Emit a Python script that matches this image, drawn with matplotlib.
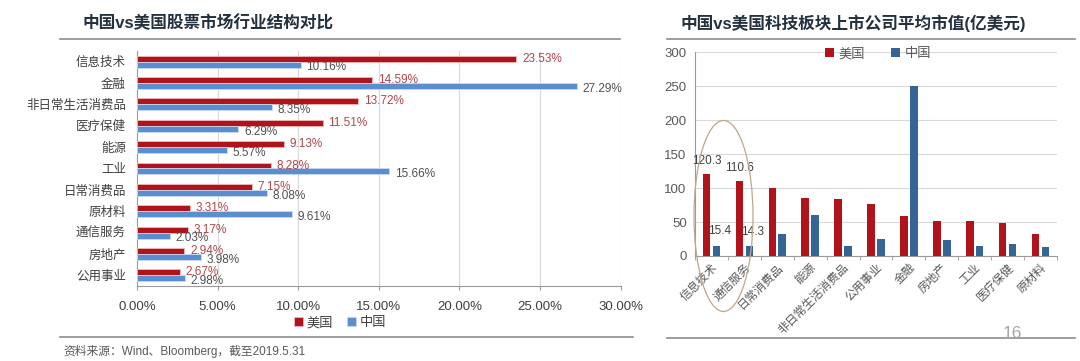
import numpy as np
import matplotlib.pyplot as plt
from matplotlib.patches import Ellipse
from matplotlib.lines import Line2D

plt.rcParams['font.family'] = ['Liberation Sans', 'Noto Sans CJK SC', 'DejaVu Sans']

# left chart: industry structure (%)
sectors_left = ["信息技术", "金融", "非日常生活消费品", "医疗保健", "能源", "工业",
                "日常消费品", "原材料", "通信服务", "房地产", "公用事业"]
us_share = [23.53, 14.59, 13.72, 11.51, 9.13, 8.28, 7.15, 3.31, 3.17, 2.94, 2.67]
cn_share = [10.16, 27.29, 8.35, 6.29, 5.57, 15.66, 8.08, 9.61, 2.03, 3.98, 2.98]

# right chart: average market cap of tech-sector listed companies (100m USD)
sectors_right = ["信息技术", "通信服务", "日常消费品", "能源", "非日常生活消费品", "公用事业",
                 "金融", "房地产", "工业", "医疗保健", "原材料"]
us_cap = [120.3, 110.6, 100, 86, 84, 77, 59, 52, 51, 48, 32]
cn_cap = [15.4, 14.3, 33, 60, 14, 25, 250, 23, 14, 18, 13]
labeled = 2  # first two categories carry value labels

red_l = '#B0141A'
blue_l = '#5B8ED0'
red_r = '#B0141A'
blue_r = '#356596'
grid_c = '#D9D9D9'
axis_c = '#9A9A9A'
text_c = '#404040'
title_c = '#24313F'

fig = plt.figure(figsize=(10.8, 3.61), dpi=100)
fig.patch.set_facecolor('white')

# ---- left chart ----
ax1 = fig.add_axes([137 / 1080, 1 - 286 / 361, (620.7 - 137) / 1080, (286 - 51) / 361])
y = np.arange(len(sectors_left))
h = 0.28
ax1.barh(y - h / 2, us_share, height=h, color=red_l, edgecolor='#F2B8B8', linewidth=0.6, label='美国', zorder=3)
ax1.barh(y + h / 2, cn_share, height=h, color=blue_l, edgecolor='#C8DAF0', linewidth=0.6, label='中国', zorder=3)
ax1.set_ylim(len(sectors_left) - 0.5, -0.5)
ax1.set_xlim(0, 30)
ax1.set_xticks(np.arange(0, 31, 5))
ax1.set_xticklabels([f'{v:.2f}%' for v in np.arange(0, 31, 5)], fontsize=9.5, color=text_c)
ax1.set_yticks(y)
ax1.set_yticklabels(sectors_left, fontsize=9, color=text_c)
ax1.tick_params(axis='y', length=0, pad=8)
ax1.tick_params(axis='x', length=3, color=axis_c, pad=8)
ax1.xaxis.grid(True, color=grid_c, linewidth=0.8, zorder=0)
for s in ['top', 'right']:
    ax1.spines[s].set_visible(False)
for s in ['left', 'bottom']:
    ax1.spines[s].set_color(axis_c)
for i in range(len(sectors_left)):
    ax1.annotate(f'{us_share[i]:.2f}%', (us_share[i], y[i] - h / 2), xytext=(4, 0),
                 textcoords='offset points', va='center', ha='left', fontsize=8.5, color='#B0464A')
    ax1.annotate(f'{cn_share[i]:.2f}%', (cn_share[i], y[i] + h / 2), xytext=(4, -2),
                 textcoords='offset points', va='center', ha='left', fontsize=8.5, color='#505050')
ax1.legend(loc='center', bbox_to_anchor=(340 / 1080, 1 - 323 / 361), bbox_transform=fig.transFigure,
           ncol=2, frameon=False, fontsize=9.5, handlelength=0.7, handleheight=0.7,
           handletextpad=0.3, columnspacing=1.0, labelcolor=text_c)

# ---- right chart ----
ax2 = fig.add_axes([695 / 1080, 1 - 256 / 361, (1057 - 695) / 1080, (256 - 52.3) / 361])
x = np.arange(len(sectors_right))
w = 0.23
ax2.bar(x - 0.15, us_cap, width=w, color=red_r, label='美国', zorder=3)
ax2.bar(x + 0.15, cn_cap, width=w, color=blue_r, label='中国', zorder=3)
ax2.set_xlim(-0.5, len(sectors_right) - 0.5)
ax2.set_ylim(0, 300)
ax2.set_yticks(np.arange(0, 301, 50))
ax2.tick_params(axis='y', length=0, labelsize=9.5, labelcolor='#595959', pad=6)
ax2.yaxis.grid(True, color=grid_c, linewidth=0.8, zorder=0)
ax2.set_xticks(x)
ax2.set_xticklabels(sectors_right, rotation=45, ha='right', rotation_mode='anchor',
                    fontsize=8.5, color='#595959')
ax2.tick_params(axis='x', length=0, pad=4)
ax2.set_xticks(np.arange(-0.5, len(sectors_right)), minor=True)
ax2.tick_params(axis='x', which='minor', length=3, color=axis_c)
for s in ['top', 'right']:
    ax2.spines[s].set_visible(False)
for s in ['left', 'bottom']:
    ax2.spines[s].set_color(axis_c)
for i in range(labeled):
    ax2.annotate(f'{us_cap[i]}', (x[i] - 0.15, us_cap[i]), xytext=(0, 5), textcoords='offset points',
                 ha='center', va='bottom', fontsize=8.5, color='#404040')
    ax2.annotate(f'{cn_cap[i]}', (x[i] + 0.25, cn_cap[i]), xytext=(0, 6), textcoords='offset points',
                 ha='center', va='bottom', fontsize=8.5, color='#404040')
ax2.legend(loc='center', bbox_to_anchor=(878 / 1080, 1 - 54 / 361), bbox_transform=fig.transFigure,
           ncol=2, frameon=False, fontsize=9.5, handlelength=0.7, handleheight=0.7,
           handletextpad=0.3, columnspacing=2.0, labelcolor='#595959')

# highlight ellipse around the first two categories
fig.patches.append(Ellipse((723.5 / 1080, 1 - 216 / 361), 59 / 1080, 191 / 361,
                           transform=fig.transFigure, fill=False, edgecolor='#BFA68C', linewidth=0.9))

# ---- titles, rules, notes ----
fig.text(83 / 1080, 1 - 23 / 361, '中国vs美国股票市场行业结构对比', fontsize=12,
         fontweight='bold', color=title_c, va='center', ha='left')
fig.text(680 / 1080, 1 - 23 / 361, '中国vs美国科技板块上市公司平均市值(亿美元)', fontsize=12,
         fontweight='bold', color=title_c, va='center', ha='left')
for x0, x1, yy in [(60, 620, 39), (667, 1075, 39), (60, 633, 337), (667, 1075, 338)]:
    fig.add_artist(Line2D([x0 / 1080, x1 / 1080], [1 - yy / 361, 1 - yy / 361],
                          color='#8C8C8C', linewidth=1.2, transform=fig.transFigure))
fig.text(63 / 1080, 1 - 351 / 361, '资料来源：Wind、Bloomberg，截至2019.5.31', fontsize=8.5,
         color='#595959', va='center', ha='left')
fig.text(1012 / 1080, 1 - 333 / 361, '16', fontsize=12.5, color='#A6A6A6', va='center', ha='center')

fig.savefig('out.png', dpi=100, facecolor='white')
